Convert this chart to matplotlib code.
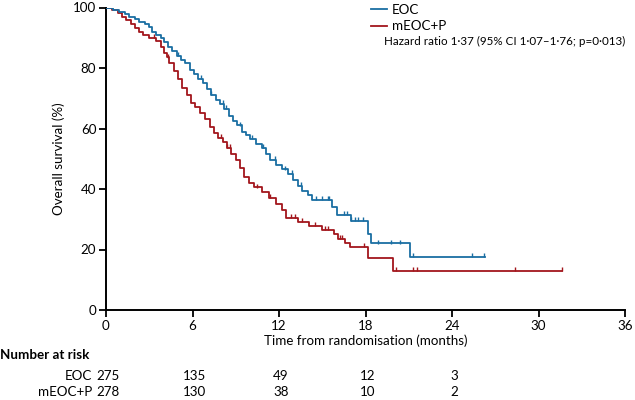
import numpy as np
import matplotlib
matplotlib.use("Agg")
import matplotlib.pyplot as plt

plt.rcParams['font.family'] = ['Lato', 'DejaVu Sans']

# EOC step curve (months, % survival)
eoc_t = [0, 0.5, 0.9, 1.3, 1.6, 2.0, 2.3, 2.7, 3.0, 3.2, 3.5, 3.8, 4.0, 4.3, 4.6, 4.9,
         5.2, 5.5, 5.8, 6.1, 6.4, 6.7, 7.0, 7.3, 7.6, 7.9, 8.2, 8.5, 8.8, 9.1, 9.4, 9.7,
         10.0, 10.4, 10.8, 11.1, 11.4, 11.8, 12.2, 12.6, 13.0, 13.3, 13.6, 14.0, 14.3,
         15.7, 16.0, 17.0, 18.2, 18.4, 21.1, 26.3]
eoc_s = [100, 99.3, 98.5, 97.8, 97, 96.3, 95.2, 94.5, 93.5, 92, 91, 90, 88.5, 87, 85.5, 84,
         82.5, 81.5, 79.5, 78, 76.5, 75, 73, 71, 69.5, 68, 66.5, 64, 62.5, 61, 59, 58,
         56.5, 55, 53.5, 51.5, 49.5, 48, 46.5, 45, 43, 41, 39.5, 38, 36.5,
         34, 31.5, 29.5, 25, 22, 17.5, 17.5]
eoc_cens = [5.0, 6.6, 7.3, 8.1, 8.3, 9.3, 10.1, 10.9, 11.7, 12.4, 12.9, 13.5, 14.6, 15.0,
            15.4, 15.5, 16.5, 16.7, 17.0, 17.3, 17.5, 17.8, 18.9, 19.8, 20.4, 21.3, 25.4, 26.2]

# mEOC+P step curve
meocp_t = [0, 0.4, 0.8, 1.1, 1.4, 1.7, 2.0, 2.3, 2.6, 3.0, 3.5, 3.8, 4.0, 4.2, 4.4, 4.7,
           5.0, 5.3, 5.6, 5.9, 6.2, 6.5, 6.9, 7.2, 7.5, 7.8, 8.1, 8.4, 8.7, 9.0, 9.3, 9.6,
           9.9, 10.3, 10.8, 11.3, 11.8, 12.2, 12.5, 13.3, 14.1, 15.0, 15.8, 16.1, 16.6,
           16.9, 18.2, 19.9, 31.6]
meocp_s = [100, 99.3, 98.3, 97, 96, 94.5, 93.3, 92, 91, 90, 88.8, 87, 85, 83.5, 81.5, 79,
           76.5, 73.5, 71, 68.5, 67, 65, 63, 60.5, 58.5, 57, 55.5, 53.5, 51.5, 49.5, 47, 44,
           42, 40.5, 39, 37, 35, 33, 30.5, 29, 27.8, 26.5, 25, 23.5, 22,
           20.8, 17.2, 12.9, 12.9]
meocp_cens = [3.3, 4.3, 8.0, 8.4, 8.6, 10.5, 11.4, 12.8, 13.1, 13.6, 14.5, 15.2, 15.4, 16.2,
              16.4, 17.9, 20.1, 21.3, 21.6, 28.4, 31.6]

xticks = [0, 6, 12, 18, 24, 30, 36]
yticks = [0, 20, 40, 60, 80, 100]
risk_times = [0, 6, 12, 18, 24]
risk_eoc = [275, 135, 49, 12, 3]
risk_meocp = [278, 130, 38, 10, 2]

blue = '#1a6ea3'
red = '#a3161c'
fs = 9.6

fig = plt.figure(figsize=(6.35, 4.0), dpi=100)
ax = fig.add_axes([106/635, 1-310/400, (625-106)/635, (310-7.5)/400])

def censor_vals(t, s, c):
    idx = np.searchsorted(t, c, side='right') - 1
    return np.asarray(s)[idx]

ax.step(eoc_t, eoc_s, where='post', color=blue, lw=1.3, label='EOC', zorder=3)
ax.step(meocp_t, meocp_s, where='post', color=red, lw=1.3, label='mEOC+P', zorder=2)
ax.plot(eoc_cens, censor_vals(eoc_t, eoc_s, eoc_cens) + 0.6, ls='none', marker='|',
        ms=3, mew=1.0, color=blue, zorder=3)
ax.plot(meocp_cens, censor_vals(meocp_t, meocp_s, meocp_cens) + 0.6, ls='none', marker='|',
        ms=3, mew=1.0, color=red, zorder=2)

ax.set_xlim(0, 36)
ax.set_ylim(0, 100)
ax.set_xticks(xticks)
ax.set_yticks(yticks)
for sp in ['top', 'right']:
    ax.spines[sp].set_visible(False)
for sp in ['left', 'bottom']:
    ax.spines[sp].set_linewidth(1.4)
ax.tick_params(axis='both', length=5, width=1.3, labelsize=fs, direction='out', pad=2)
ax.set_xlabel('Time from randomisation (months)', fontsize=fs, labelpad=2)
ax.set_ylabel('Overall survival (%)', fontsize=fs, labelpad=6)

leg = ax.legend(loc='upper left', bbox_to_anchor=(0.497, 1.035), frameon=False, fontsize=fs,
                handlelength=1.2, handletextpad=0.4, labelspacing=0.35, borderpad=0)
fig.text(384/635, 1-41/400, 'Hazard ratio 1·37 (95% CI 1·07–1·76; p=0·013)', fontsize=8.4,
         va='center', ha='left')

# Number at risk table
fig.text(0.0, 1-355/400, 'Number at risk', fontsize=fs, fontweight='bold', va='center', ha='left')
fig.text(92/635, 1-376/400, 'EOC', fontsize=fs, va='center', ha='right')
fig.text(92/635, 1-392/400, 'mEOC+P', fontsize=fs, va='center', ha='right')
for t, a, b in zip(risk_times, risk_eoc, risk_meocp):
    xf = fig.transFigure.inverted().transform(ax.transData.transform((t, 0)))[0]
    fig.text(xf + 2/635, 1-376/400, str(a), fontsize=fs, va='center', ha='center')
    fig.text(xf + 2/635, 1-392/400, str(b), fontsize=fs, va='center', ha='center')

fig.savefig('out.png', dpi=100)
